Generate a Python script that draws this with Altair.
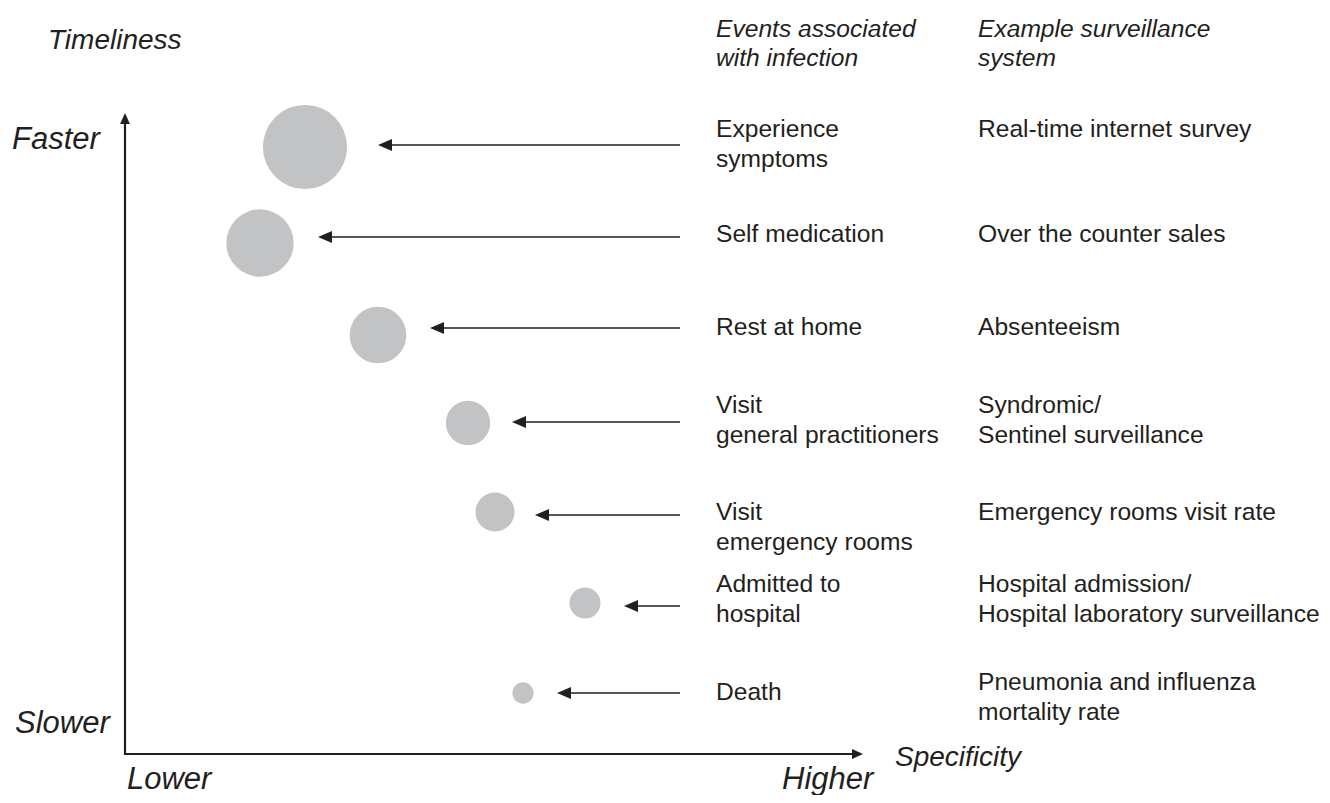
import altair as alt
import pandas as pd

# ---- data (screen-like units: x to the right, y downward) ----
events = ["Experience\nsymptoms", "Self medication", "Rest at home",
          "Visit\ngeneral practitioners", "Visit\nemergency rooms",
          "Admitted to\nhospital", "Death"]
systems = ["Real-time internet survey", "Over the counter sales", "Absenteeism",
           "Syndromic/\nSentinel surveillance", "Emergency rooms visit rate",
           "Hospital admission/\nHospital laboratory surveillance",
           "Pneumonia and influenza\nmortality rate"]
specificity = [305, 260, 378, 468, 495, 585, 523]      # bubble centre (x)
timeliness = [147, 243, 335, 423, 512, 603, 693]       # bubble centre (y, downward)
bubble_diam = [95, 76, 64, 50, 44, 35, 24]
arrow_level = [145, 237, 328, 422, 515, 606, 693]
arrow_tip = [378, 318, 430, 512, 535, 624, 557]
event_line1 = [130, 235, 328, 406, 513, 585, 693]
system_line1 = [130, 235, 328, 406, 513, 585, 683]

headers = ["Events associated\nwith infection", "Example surveillance\nsystem"]
axis_words = ["Timeliness", "Faster", "Slower", "Specificity", "Lower", "Higher"]
axis_word_x = [48, 12, 15, 895, 127, 782]
axis_word_y = [41, 140, 724, 758, 780, 780]
axis_word_size = [28, 31, 31, 28, 31, 31]

ARROW_TAIL = 680
EVENT_COL = 716
SYSTEM_COL = 978
LINE_GAP = 29.5
ORIGIN = (125, 754)
Y_TIP = 113
X_TIP = 863
TEXT_SIZE = 24.6

INK = "#231f20"
GREY = "#c2c3c5"
FONT = "Liberation Sans"

xs = alt.Scale(domain=[8, 1322], nice=False, zero=False)
ys = alt.Scale(domain=[8, 795], reverse=True, nice=False, zero=False)

# ---- tables ----
bubbles = pd.DataFrame({"x": specificity, "y": timeliness, "d": bubble_diam})
arrows = pd.DataFrame({"tail": [ARROW_TAIL] * len(arrow_tip), "tip": arrow_tip,
                       "y": arrow_level})

rows = []
for i in range(len(events)):
    for j, line in enumerate(events[i].split("\n")):
        rows.append({"x": EVENT_COL, "y": event_line1[i] + j * LINE_GAP, "t": line})
    for j, line in enumerate(systems[i].split("\n")):
        rows.append({"x": SYSTEM_COL, "y": system_line1[i] + j * LINE_GAP, "t": line})
body = pd.DataFrame(rows)

hrows = []
for h, col in zip(headers, [EVENT_COL, SYSTEM_COL]):
    for j, line in enumerate(h.split("\n")):
        hrows.append({"x": col, "y": 30 + j * 28.5, "t": line})
head_df = pd.DataFrame(hrows)

ital = pd.DataFrame({"x": axis_word_x, "y": axis_word_y, "t": axis_words,
                     "fs": axis_word_size})

axes_lines = pd.DataFrame({
    "x": [ORIGIN[0], ORIGIN[0]], "x2": [ORIGIN[0], X_TIP - 6],
    "y": [ORIGIN[1] + 1, ORIGIN[1]], "y2": [Y_TIP + 6, ORIGIN[1]],
})
up_head = pd.DataFrame({"x": [ORIGIN[0]], "y": [Y_TIP]})
right_head = pd.DataFrame({"x": [X_TIP], "y": [ORIGIN[1]]})

# ---- layers ----
circ = alt.Chart(bubbles).transform_calculate(
    area="PI * datum.d * datum.d / 4"
).mark_circle(color=GREY, opacity=1).encode(
    x=alt.X("x:Q", scale=xs, axis=None),
    y=alt.Y("y:Q", scale=ys, axis=None),
    size=alt.Size("area:Q", scale=None, legend=None),
)

shaft = alt.Chart(arrows).transform_calculate(
    shaft_end="datum.tip + 8"
).mark_rule(color=INK, strokeWidth=1.5).encode(
    x=alt.X("tail:Q", scale=xs, axis=None),
    x2="shaft_end:Q",
    y=alt.Y("y:Q", scale=ys, axis=None),
)

head = alt.Chart(arrows).mark_point(
    shape="M 0 0 L 1 -0.42 L 1 0.42 Z", filled=True, color=INK,
    opacity=1, size=784, strokeWidth=0,
).encode(
    x=alt.X("tip:Q", scale=xs, axis=None),
    y=alt.Y("y:Q", scale=ys, axis=None),
)

axis_rules = alt.Chart(axes_lines).mark_rule(color=INK, strokeWidth=2.2).encode(
    x=alt.X("x:Q", scale=xs, axis=None), x2="x2:Q",
    y=alt.Y("y:Q", scale=ys, axis=None), y2="y2:Q",
)

up = alt.Chart(up_head).mark_point(
    shape="M 0 0 L 0.45 1 L -0.45 1 Z", filled=True, color=INK,
    opacity=1, size=484, strokeWidth=0,
).encode(x=alt.X("x:Q", scale=xs, axis=None), y=alt.Y("y:Q", scale=ys, axis=None))

right = alt.Chart(right_head).mark_point(
    shape="M 0 0 L -1 -0.45 L -1 0.45 Z", filled=True, color=INK,
    opacity=1, size=484, strokeWidth=0,
).encode(x=alt.X("x:Q", scale=xs, axis=None), y=alt.Y("y:Q", scale=ys, axis=None))

body_text = alt.Chart(body).mark_text(
    align="left", baseline="middle", font=FONT, fontSize=TEXT_SIZE, color=INK,
).encode(
    x=alt.X("x:Q", scale=xs, axis=None),
    y=alt.Y("y:Q", scale=ys, axis=None),
    text="t:N",
)

header_text = alt.Chart(head_df).mark_text(
    align="left", baseline="middle", font=FONT, fontStyle="italic",
    fontSize=TEXT_SIZE, color=INK,
).encode(
    x=alt.X("x:Q", scale=xs, axis=None),
    y=alt.Y("y:Q", scale=ys, axis=None),
    text="t:N",
)

ital_text = alt.Chart(ital).mark_text(
    align="left", baseline="middle", font=FONT, fontStyle="italic", color=INK,
).encode(
    x=alt.X("x:Q", scale=xs, axis=None),
    y=alt.Y("y:Q", scale=ys, axis=None),
    text="t:N",
    size=alt.Size("fs:Q", scale=None, legend=None),
)

chart = alt.layer(
    circ, shaft, head, axis_rules, up, right, body_text, header_text, ital_text
).properties(
    width=1314, height=787, padding=0,
    autosize=alt.AutoSizeParams(type="none"),
).configure_view(stroke=None)

chart.save("out.html", embed_options={"renderer": "svg", "actions": False})
